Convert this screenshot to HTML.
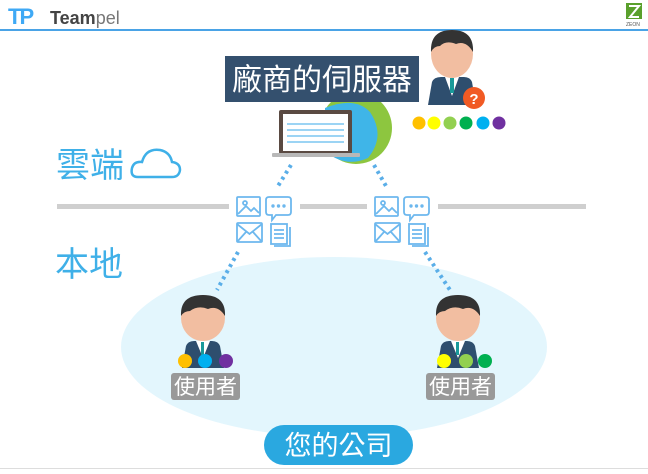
<!DOCTYPE html>
<html><head><meta charset="utf-8"><style>
html,body{margin:0;padding:0;background:#fff}
svg{display:block}
text{font-family:"Liberation Sans","Noto Sans CJK TC",sans-serif}
</style></head><body>
<svg width="648" height="474" viewBox="0 0 648 474" xmlns="http://www.w3.org/2000/svg">
<text x="8" y="24" font-size="22" font-weight="bold" fill="#3fa9f5" font-family="Liberation Serif,serif" letter-spacing="-2">TP</text>
<text x="50" y="24" font-size="18" fill="#444"><tspan font-weight="bold">Team</tspan><tspan fill="#777">pel</tspan></text>
<rect x="626" y="3" width="16" height="16" fill="#5aa02c"/>
<path d="M629 6 H639 L630 17 H639" stroke="#fff" stroke-width="2" fill="none"/>
<text x="626" y="26" font-size="5" fill="#555">ZEON</text>
<rect x="0" y="29" width="648" height="2" fill="#4aa3e6"/>

<rect x="57" y="204" width="172" height="5" fill="#cfcfcf"/>
<rect x="300" y="204" width="67" height="5" fill="#cfcfcf"/>
<rect x="438" y="204" width="148" height="5" fill="#cfcfcf"/>

<ellipse cx="334" cy="347" rx="213" ry="90" fill="#e3f6fd"/>

<circle cx="356" cy="128" r="36" fill="#8dc63f"/>
<path d="M325 108 Q355 96 370 112 Q386 136 368 158 Q346 168 326 152Z" fill="#3fb5e8"/>
<rect x="279" y="110" width="73" height="44" rx="2" fill="#5a4a42"/>
<rect x="283" y="114" width="65" height="37" fill="#fff"/>
<g stroke="#7cc6f0" stroke-width="1.5"><line x1="287" y1="124" x2="344" y2="124"/><line x1="287" y1="130" x2="344" y2="130"/><line x1="287" y1="136" x2="344" y2="136"/><line x1="287" y1="142" x2="344" y2="142"/></g>
<rect x="272" y="153" width="88" height="4" rx="1" fill="#b8b8b8"/>

<rect x="225" y="56" width="194" height="46" fill="#34506e"/>
<text x="322" y="90" font-size="30" fill="#fff" text-anchor="middle">廠商的伺服器</text>

<path d="M428 105 L432 82 Q434 77 441 77 L464 77 Q470 77 472 82 L476 105Z" fill="#2e4e6e"/>
<path d="M445 77 L452 96 L459 77Z" fill="#fff"/>
<rect x="450" y="78" width="4" height="15" fill="#1a9a9a"/>
<ellipse cx="452" cy="54" rx="21" ry="24" fill="#f2bea1"/>
<path d="M431 52 Q430 30 452 30 Q474 30 473 52 Q466 40 456 44 Q446 40 440 46 Q434 46 431 52Z" fill="#333"/>
<circle cx="474" cy="98" r="11" fill="#f15a24"/>
<text x="474" y="104" font-size="15" font-weight="bold" fill="#fff" text-anchor="middle">?</text>
<g><circle cx="419" cy="123" r="6.5" fill="#ffc000"/><circle cx="434" cy="123" r="6.5" fill="#ffff00"/><circle cx="450" cy="123" r="6.5" fill="#92d050"/><circle cx="466" cy="123" r="6.5" fill="#00b050"/><circle cx="483" cy="123" r="6.5" fill="#00b0f0"/><circle cx="499" cy="123" r="6.5" fill="#7030a0"/></g>

<text x="56" y="177" font-size="34" fill="#3fb0e8">雲端</text>
<path d="M138 177 Q130 177 132 168 Q134 161 142 162 Q146 148 160 150 Q170 152 172 162 Q180 163 180 170 Q179 177 172 177Z" fill="none" stroke="#3fb0e8" stroke-width="2.5"/>
<text x="55" y="276" font-size="34" fill="#3fb0e8">本地</text>

<g stroke="#5aaee8" stroke-width="4" stroke-dasharray="3 4">
<line x1="291" y1="165" x2="278" y2="186"/>
<line x1="374" y1="165" x2="386" y2="186"/>
<line x1="238" y1="252" x2="217" y2="290"/>
<line x1="425" y1="252" x2="450" y2="290"/>
</g>

<g id="ic" fill="none" stroke="#6db8ee" stroke-width="1.8">
<rect x="237" y="197" width="23" height="19" rx="1"/>
<path d="M238 214 L246 206 L251 211 L254 208 L259 213"/>
<circle cx="245" cy="203" r="2"/>
<path d="M269 197 H288 Q291 197 291 200 V212 Q291 215 288 215 H276 L272 220 V215 H269 Q266 215 266 212 V200 Q266 197 269 197Z"/>
<circle cx="273" cy="206" r="0.8" fill="#6db8ee"/><circle cx="278.5" cy="206" r="0.8" fill="#6db8ee"/><circle cx="284" cy="206" r="0.8" fill="#6db8ee"/>
<rect x="237" y="223" width="25" height="19" rx="1"/>
<path d="M237 224 L249.5 234 L262 224 M237 242 L246 232 M262 242 L253 232"/>
<rect x="271" y="224" width="16" height="20"/>
<path d="M290 227 V246 H274"/>
<path d="M274 230 H284 M274 234 H284 M274 238 H284"/>
</g>
<use href="#ic" x="138"/>

<g id="u">
<path d="M182 368 L186 346 Q188 341 194 341 L212 341 Q218 341 220 346 L224 368Z" fill="#2e4e6e"/>
<path d="M196 341 L203 358 L210 341Z" fill="#fff"/>
<rect x="201" y="342" width="3" height="13" fill="#1a9a9a"/>
<ellipse cx="203" cy="318" rx="22" ry="23" fill="#f2bea1"/>
<path d="M181 316 Q180 295 203 295 Q226 295 225 316 Q218 305 208 309 Q198 305 190 311 Q184 311 181 316Z" fill="#333"/>
<rect x="171" y="373" width="69" height="27" rx="3" fill="#999"/>
</g>
<text x="205.5" y="394" font-size="21" fill="#fff" text-anchor="middle">使用者</text>
<circle cx="185" cy="361" r="7" fill="#ffc000"/><circle cx="205" cy="361" r="7" fill="#00b0f0"/><circle cx="226" cy="361" r="7" fill="#7030a0"/>
<use href="#u" x="255"/>
<text x="460.5" y="394" font-size="21" fill="#fff" text-anchor="middle">使用者</text>
<circle cx="444" cy="361" r="7" fill="#ffff00"/><circle cx="466" cy="361" r="7" fill="#92d050"/><circle cx="485" cy="361" r="7" fill="#00b050"/>

<rect x="264" y="425" width="149" height="40" rx="20" fill="#2aa8e0"/>
<text x="338.5" y="455" font-size="27" fill="#fff" text-anchor="middle">您的公司</text>
<rect x="0" y="468" width="648" height="1" fill="#ddd"/>
</svg>
</body></html>
